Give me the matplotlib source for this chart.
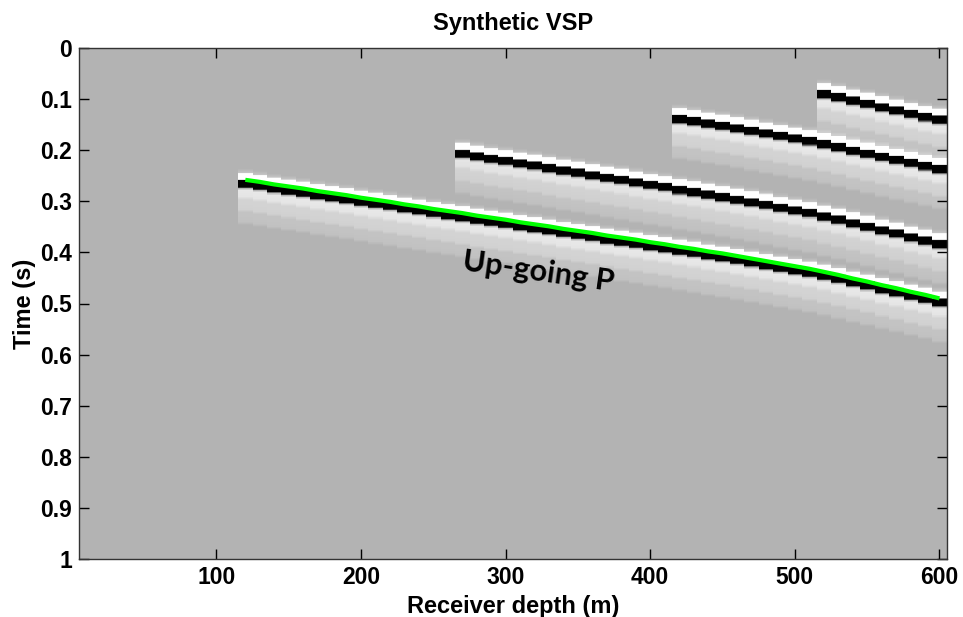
import numpy as np
import matplotlib
matplotlib.use('Agg')
import matplotlib.pyplot as plt

# ---------------- data ----------------
receiver_depths = list(range(10, 601, 10))          # m, one trace every 10 m

ev1_depths = list(range(120, 601, 10))
ev1_times = [0.258, 0.262, 0.267, 0.271, 0.275, 0.280, 0.284, 0.288, 0.293, 0.297,
             0.301, 0.306, 0.310, 0.315, 0.319, 0.323, 0.328, 0.332, 0.336, 0.341,
             0.345, 0.349, 0.354, 0.358, 0.362, 0.367, 0.371, 0.375, 0.380, 0.384,
             0.389, 0.393, 0.398, 0.402, 0.407, 0.412, 0.417, 0.422, 0.427, 0.432,
             0.438, 0.444, 0.451, 0.457, 0.464, 0.470, 0.477, 0.483, 0.490]

ev2_depths = list(range(270, 601, 10))
ev2_times = [0.199, 0.204, 0.209, 0.213, 0.218, 0.222, 0.227, 0.232, 0.236, 0.241,
             0.246, 0.250, 0.255, 0.260, 0.264, 0.270, 0.274, 0.279, 0.284, 0.289,
             0.294, 0.299, 0.305, 0.310, 0.315, 0.322, 0.328, 0.335, 0.342, 0.349,
             0.355, 0.363, 0.369, 0.376]

ev3_depths = list(range(420, 601, 10))
ev3_times = [0.131, 0.135, 0.140, 0.144, 0.149, 0.154, 0.159, 0.164, 0.169, 0.174,
             0.180, 0.186, 0.193, 0.199, 0.205, 0.211, 0.217, 0.223, 0.229]

ev4_depths = list(range(520, 601, 10))
ev4_times = [0.082, 0.088, 0.095, 0.101, 0.108, 0.114, 0.121, 0.127, 0.132]

events = [(ev1_depths, ev1_times, 1.0),
          (ev2_depths, ev2_times, 0.95),
          (ev3_depths, ev3_times, 1.0),
          (ev4_depths, ev4_times, 1.0)]

# picked up-going P (green)
pick_depths = ev1_depths
pick_times = ev1_times

x_ticks = [100, 200, 300, 400, 500, 600]
y_ticks = [0, 0.1, 0.2, 0.3, 0.4, 0.5, 0.6, 0.7, 0.8, 0.9, 1.0]
y_ticklabels = ['0', '0.1', '0.2', '0.3', '0.4', '0.5', '0.6', '0.7', '0.8', '0.9', '1']

# wavelet shape (relative to zero crossing) – rendering style
wl_tau = [-0.022, -0.0145, -0.0120, -0.0015, 0.0015, 0.0135, 0.0170, 0.0205,
          0.032, 0.038, 0.058, 0.063, 0.082, 0.088]
wl_amp = [0.0, 0.10, 0.60, 0.60, -1.30, -1.30, 0.0, 0.30,
          0.28, 0.19, 0.17, 0.10, 0.08, 0.0]

# ---------------- wavefield ----------------
dt = 0.001
t_axis = np.arange(0, 1.0 + dt / 2, dt)
Z = np.zeros((len(t_axis), len(receiver_depths)))
for depths, times, a in events:
    for d, t0 in zip(depths, times):
        j = receiver_depths.index(d)
        Z[:, j] += a * np.interp(t_axis - t0, wl_tau, wl_amp, left=0, right=0)

# ---------------- figure ----------------
plt.rcParams['font.family'] = ['Liberation Sans', 'DejaVu Sans']
plt.rcParams['font.weight'] = 'bold'

fig = plt.figure(figsize=(9.63, 6.17), dpi=100)
ax = fig.add_axes([79 / 963, 1 - 559 / 617, (946.7 - 79) / 963, (559 - 48) / 617])

ax.imshow(Z, extent=[5, 605, 1.0, 0.0], aspect='auto', cmap='gray',
          vmin=-1.0, vmax=0.43, interpolation='nearest')
ax.plot(pick_depths, pick_times, color='#00ff00', lw=3, solid_capstyle='butt')

ax.text(323, 0.437, 'Up-going P', rotation=-8, fontsize=22, fontfamily='Lato',
        fontweight='bold', ha='center', va='center', rotation_mode='anchor')

ax.set_xlim(5, 605)
ax.set_ylim(1.0, 0.0)
ax.set_xticks(x_ticks)
ax.set_yticks(y_ticks)
ax.set_yticklabels(y_ticklabels)
ax.tick_params(direction='in', length=7, width=1, top=True, right=True,
               labelsize=16.5, pad=5, colors='black')
for s in ax.spines.values():
    s.set_linewidth(1.0)
    s.set_color('#333333')

ax.set_title('Synthetic VSP', fontsize=17, fontweight='bold', pad=13)
ax.set_xlabel('Receiver depth (m)', fontsize=17, fontweight='bold', labelpad=4)
ax.set_ylabel('Time (s)', fontsize=17, fontweight='bold', labelpad=3)

fig.savefig('out.png', dpi=100)
